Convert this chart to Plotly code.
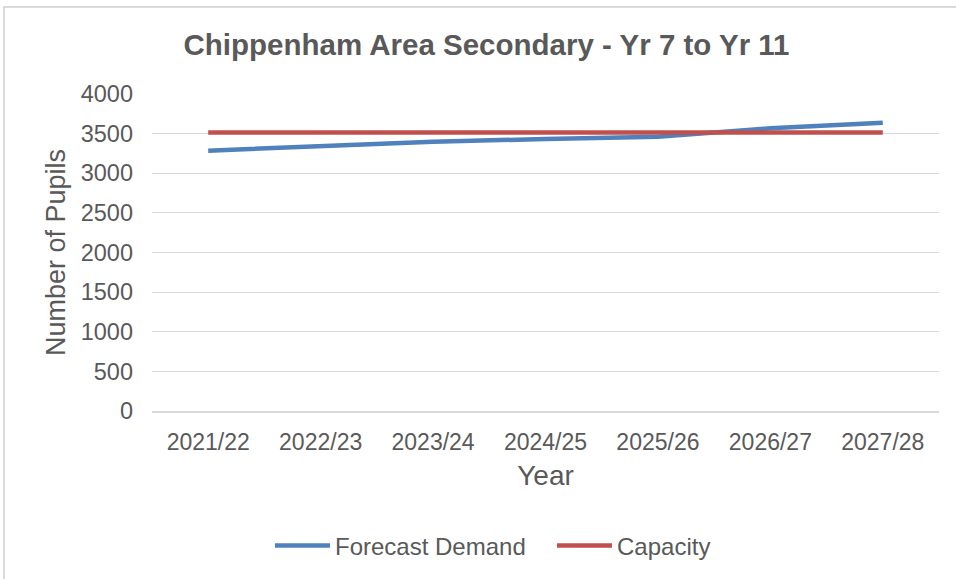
import plotly.graph_objects as go

years = ["2021/22", "2022/23", "2023/24", "2024/25", "2025/26", "2026/27", "2027/28"]
forecast_demand = [3285, 3344, 3398, 3432, 3461, 3567, 3638]
capacity = [3515, 3515, 3515, 3515, 3515, 3515, 3515]

W, H = 956, 579
L, R, T, B = 152, 17, 94, 168
PW, PH = W - L - R, H - T - B

def px_x(x):
    return (x - L) / PW

def px_y(y):
    return (H - B - y) / PH

TXT = "#595959"
FONT = "Liberation Sans, Arial, sans-serif"

fig = go.Figure()
fig.add_trace(go.Scatter(x=years, y=forecast_demand, mode="lines", name="Forecast Demand",
                         line=dict(color="#4F81BD", width=4.5)))
fig.add_trace(go.Scatter(x=years, y=capacity, mode="lines", name="Capacity",
                         line=dict(color="#C0504D", width=4.5)))

fig.update_layout(
    width=W, height=H,
    margin=dict(l=L, r=R, t=T, b=B, autoexpand=False),
    paper_bgcolor="white", plot_bgcolor="white",
    font=dict(family=FONT, color=TXT, size=23),
    title=dict(text="<b>Chippenham Area Secondary - Yr 7 to Yr 11</b>",
               x=486.5 / W, xref="container", xanchor="center",
               y=1 - 45 / H, yref="container", yanchor="middle",
               font=dict(size=29.5, color=TXT, family=FONT)),
    showlegend=True,
    legend=dict(orientation="h", x=px_x(270), xanchor="left",
                y=px_y(546), yanchor="middle",
                font=dict(size=24, color=TXT), itemwidth=55, entrywidth=212,
                tracegroupgap=0),
    shapes=[
        dict(type="rect", xref="paper", yref="paper", x0=px_x(4), x1=px_x(990),
             y0=px_y(7), y1=px_y(600), fillcolor="rgba(0,0,0,0)", layer="above",
             line=dict(color="#D9D9D9", width=2)),
    ],
)

fig.update_xaxes(
    type="category", range=[-0.5, 6.5], automargin=False,
    showgrid=False, showline=True, linecolor="#D9D9D9", linewidth=1.5,
    ticks="", tickfont=dict(size=23, color=TXT), ticklabelstandoff=10,
    title=dict(text="Year", font=dict(size=28, color=TXT), standoff=11),
)
fig.update_yaxes(
    range=[0, 4000], dtick=500, automargin=False,
    showgrid=True, gridcolor="#D9D9D9", gridwidth=1.2,
    zeroline=False, showline=False, ticks="", ticklabelstandoff=18,
    tickfont=dict(size=23.5, color=TXT),
    title=dict(text="Number of Pupils", font=dict(size=27, color=TXT), standoff=7),
)

fig.write_html("out.html", config={"displayModeBar": False},
               post_script="document.body.style.margin='0';document.body.style.overflow='hidden';")
